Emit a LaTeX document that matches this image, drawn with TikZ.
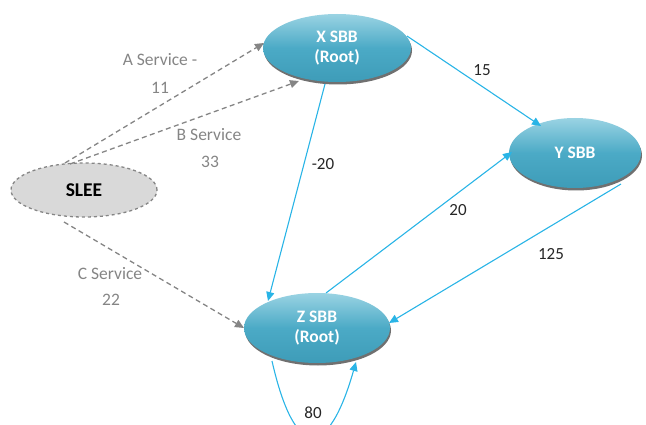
\documentclass[tikz,border=0pt]{standalone}
\usepackage{fontspec}
\setmainfont{Carlito}
\usetikzlibrary{arrows.meta,shadows,shapes.geometric}
\definecolor{sbbtop}{HTML}{9AD3E3}
\definecolor{sbbmid}{HTML}{4BAAC6}
\definecolor{sbbbot}{HTML}{3E9CB8}
\definecolor{flow}{HTML}{29B4E6}
\definecolor{svc}{HTML}{858585}
\tikzset{
  sbb/.style={ellipse, top color=sbbtop, bottom color=sbbbot,
    middle color=sbbmid, text=white, font=\bfseries\fontsize{17.5}{20}\selectfont,
    align=center, inner sep=0pt,
    drop shadow={shadow xshift=1pt, shadow yshift=-2.5pt, fill=black!70, opacity=0.8}},
  slee/.style={ellipse, draw=svc, dashed, line width=1.3pt, fill=black!15,
    font=\bfseries\fontsize{19.5}{22}\selectfont, inner sep=0pt},
  flowarrow/.style={draw=flow, line width=1.1pt, -{Triangle[length=9pt,width=8pt]}},
  svcarrow/.style={draw=svc, line width=1.3pt, dash pattern=on 5pt off 3.5pt,
    -{Triangle[length=9pt,width=8pt]}},
  svclabel/.style={text=svc, font=\fontsize{17.5}{20}\selectfont},
  numlabel/.style={text=black!85, font=\fontsize{17}{20}\selectfont},
}
\begin{document}
\begin{tikzpicture}[x=1pt,y=-1pt]
\useasboundingbox (0,0) rectangle (646,425);
% nodes
\node[sbb, minimum width=148pt, minimum height=68pt] (x) at (337,48) {X SBB\\(Root)};
\node[sbb, minimum width=132pt, minimum height=70pt] (y) at (575,153) {Y SBB};
\node[sbb, minimum width=146pt, minimum height=70pt] (z) at (317,328) {Z SBB\\(Root)};
\node[slee, minimum width=146pt, minimum height=54pt] (s) at (84,190) {SLEE};
% anchor points on the ellipses
\coordinate (sa) at (65,163);
\coordinate (sb) at (70,164);
\coordinate (sc) at (64,222);
\coordinate (xa) at (264,43);
\coordinate (xb) at (299,81);
\coordinate (xy) at (407,36);
\coordinate (xz) at (325,84);
\coordinate (yx) at (541,126);
\coordinate (yz) at (621,184);
\coordinate (yw) at (512,152);
\coordinate (za) at (244,328);
\coordinate (zx) at (268,301);
\coordinate (zy) at (326,293);
\coordinate (zw) at (389,323);
\coordinate (zl) at (272,361);
\coordinate (zr) at (356,362);
% service requests from SLEE
\draw[svcarrow] (sa) -- (xa);
\draw[svcarrow] (sb) -- (xb);
\draw[svcarrow] (sc) -- (za);
\node[svclabel] (la) at (160,60) {A Service -};
\node[svclabel] (la2) at (160,88) {11};
\node[svclabel] (lb) at (209,135) {B Service};
\node[svclabel] (lb2) at (210,162) {33};
\node[svclabel] (lc) at (110,274) {C Service};
\node[svclabel] (lc2) at (111,300) {22};
% flows between SBBs
\draw[flowarrow] (xy) -- (yx);
\draw[flowarrow] (xz) -- (zx);
\draw[flowarrow] (zy) -- (yw);
\draw[flowarrow] (yz) -- (zw);
\draw[flowarrow] (zl) .. controls (295,462) and (328,460) .. (zr);
\node[numlabel] (n15) at (482,70) {15};
\node[numlabel] (n20a) at (323,164) {-20};
\node[numlabel] (n20b) at (458,210) {20};
\node[numlabel] (n125) at (551,254) {125};
\node[numlabel] (n80) at (313,413) {80};
\end{tikzpicture}
\end{document}
